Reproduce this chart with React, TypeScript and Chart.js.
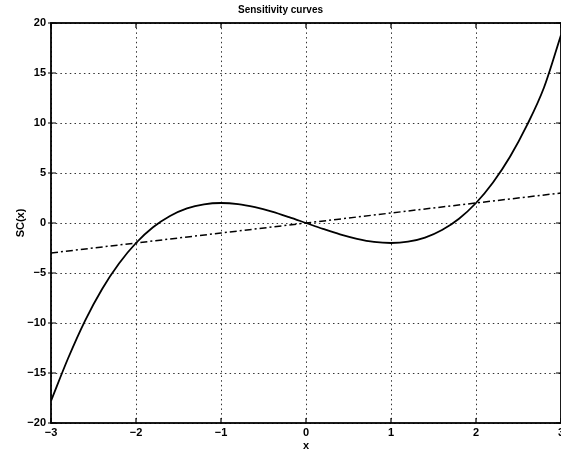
import React, { useEffect, useRef } from "react";
import { Chart, registerables } from "chart.js";

Chart.register(...registerables);

// ---- data ----
const titleText = "Sensitivity curves";
const xAxisLabel = "x";
const yAxisLabel = "SC(x)";

const xTicks = [-3, -2, -1, 0, 1, 2, 3];
const yTicks = [-20, -15, -10, -5, 0, 5, 10, 15, 20];

// solid sensitivity curve
const curveX = [
  -3.0, -2.8, -2.6, -2.4, -2.2, -2.0, -1.8, -1.6, -1.4, -1.2, -1.0,
  -0.8, -0.6, -0.4, -0.2, 0.0, 0.2, 0.4, 0.6, 0.8, 1.0,
  1.2, 1.4, 1.6, 1.8, 2.0, 2.2, 2.4, 2.6, 2.8, 3.0,
];
const curveY = [
  -17.8, -13.55, -9.78, -6.62, -4.05, -2.0, -0.43, 0.7, 1.46, 1.87, 2.0,
  1.89, 1.58, 1.14, 0.59, 0.0, -0.59, -1.14, -1.58, -1.89, -2.0,
  -1.87, -1.46, -0.7, 0.43, 2.0, 4.05, 6.62, 9.78, 13.55, 18.8,
];

// dash-dot straight line
const lineX = [-3, -2, -1, 0, 1, 2, 3];
const lineY = [-3, -2, -1, 0, 1, 2, 3];

const FONT = "'Liberation Sans', Arial, Helvetica, sans-serif";
const fmt = (v: number | string) => String(v).replace("-", "\u2212");

const boxPlugin = {
  id: "matlabBox",
  afterDraw(chart: any) {
    const { ctx, chartArea, scales } = chart;
    const { left, top, right, bottom } = chartArea;
    ctx.save();
    ctx.strokeStyle = "#000";
    ctx.setLineDash([]);
    ctx.lineWidth = 1.2;
    ctx.beginPath();
    for (const v of xTicks) {
      const px = scales.x.getPixelForValue(v);
      ctx.moveTo(px, bottom);
      ctx.lineTo(px, bottom - 5);
      ctx.moveTo(px, top);
      ctx.lineTo(px, top + 5);
    }
    for (const v of yTicks) {
      const py = scales.y.getPixelForValue(v);
      ctx.moveTo(left - 3, py);
      ctx.lineTo(left + 5, py);
      ctx.moveTo(right, py);
      ctx.lineTo(right - 5, py);
    }
    ctx.stroke();
    ctx.lineWidth = 1.8;
    ctx.strokeRect(left, top, right - left, bottom - top);
    ctx.restore();
  },
};

export default function App() {
  const ref = useRef<HTMLCanvasElement | null>(null);

  useEffect(() => {
    if (!ref.current) return;
    const chart = new Chart(ref.current, {
      type: "line",
      data: {
        datasets: [
          {
            label: "SC",
            data: curveX.map((x, i) => ({ x, y: curveY[i] })),
            borderColor: "#000",
            borderWidth: 1.8,
            pointRadius: 0,
            cubicInterpolationMode: "monotone",
            fill: false,
          },
          {
            label: "line",
            data: lineX.map((x, i) => ({ x, y: lineY[i] })),
            borderColor: "#000",
            borderWidth: 1.5,
            borderDash: [7, 3, 2, 3],
            pointRadius: 0,
            tension: 0,
            fill: false,
          },
        ],
      },
      options: {
        animation: false,
        responsive: false,
        maintainAspectRatio: false,
        layout: { padding: { left: 0, right: 51, top: 0, bottom: 0 } },
        plugins: {
          legend: { display: false },
          tooltip: { enabled: false },
          title: {
            display: true,
            text: titleText,
            color: "#000",
            font: { family: FONT, size: 10, weight: "bold" },
            padding: { top: 4, bottom: 7 },
          },
        },
        scales: {
          x: {
            type: "linear",
            min: -3,
            max: 3,
            afterFit: (s: any) => {
              s.height = 30;
            },
            afterBuildTicks: (s: any) => {
              s.ticks = xTicks.map((v) => ({ value: v }));
            },
            ticks: {
              autoSkip: false,
              maxRotation: 0,
              color: "#000",
              padding: 3,
              font: { family: FONT, size: 11, weight: "bold" },
              callback: (v: any) => fmt(v),
            },
            grid: { color: "#333", lineWidth: 1, drawTicks: false },
            border: { display: false, dash: [1.5, 3.2] },
            title: {
              display: true,
              text: xAxisLabel,
              color: "#000",
              font: { family: FONT, size: 11, weight: "bold" },
              padding: { top: 0, bottom: 0 },
            },
          },
          y: {
            type: "linear",
            min: -20,
            max: 20,
            afterFit: (s: any) => {
              s.width = 51;
            },
            afterBuildTicks: (s: any) => {
              s.ticks = yTicks.map((v) => ({ value: v }));
            },
            ticks: {
              autoSkip: false,
              color: "#000",
              padding: 5,
              font: { family: FONT, size: 11, weight: "bold" },
              callback: (v: any) => fmt(v),
            },
            grid: { color: "#333", lineWidth: 1, drawTicks: false },
            border: { display: false, dash: [1.5, 3.2] },
            title: {
              display: true,
              text: yAxisLabel,
              color: "#000",
              font: { family: FONT, size: 11, weight: "bold" },
              padding: { top: 14, bottom: 0 },
            },
          },
        },
      },
      plugins: [boxPlugin],
    } as any);
    return () => chart.destroy();
  }, []);

  return (
    <div
      style={{
        position: "absolute",
        left: 0,
        top: 0,
        width: 561,
        height: 453,
        overflow: "hidden",
        background: "#fff",
      }}
    >
      <canvas
        ref={ref}
        width={612}
        height={453}
        style={{ display: "block", width: 612, height: 453 }}
      />
    </div>
  );
}
